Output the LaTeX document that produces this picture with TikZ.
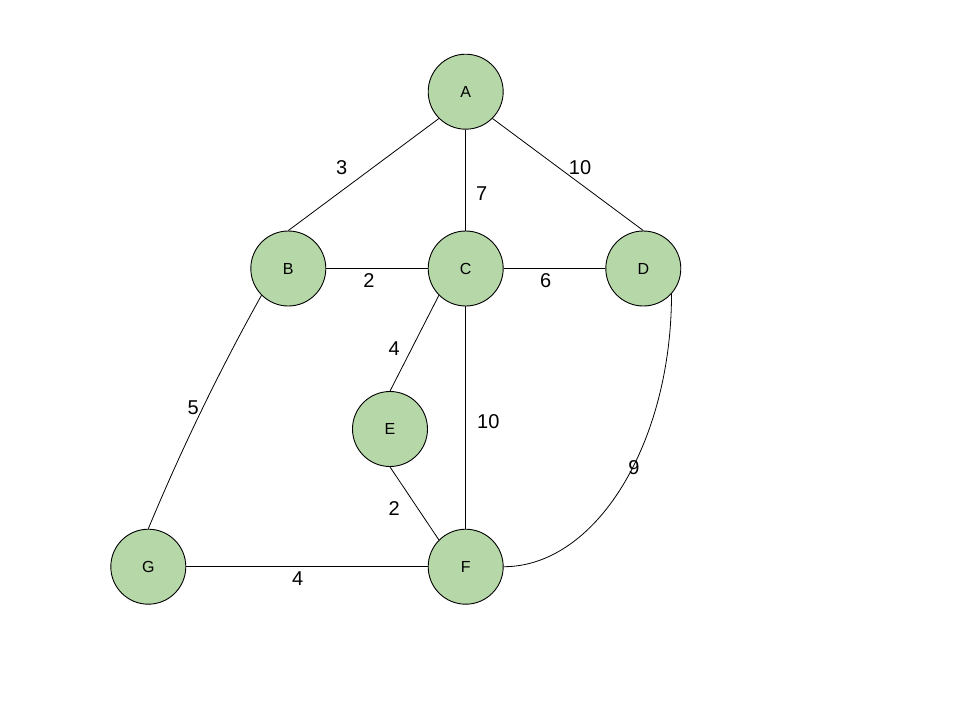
\documentclass[tikz,border=0pt]{standalone}
\usepackage{fontspec}
\setmainfont{Liberation Sans}
\definecolor{nodegreen}{HTML}{B6D7A8}
\begin{document}
\begin{tikzpicture}[x=1pt,y=-1pt,
  vertex/.style={circle,draw=black,fill=nodegreen,line width=0.9pt,minimum size=75pt,inner sep=0pt,font=\fontsize{16}{16}\selectfont},
  edge/.style={line width=0.8pt,black},
  wlabel/.style={inner sep=0pt,font=\fontsize{20}{20}\selectfont}]
\useasboundingbox[fill=white] (0,0) rectangle (960,720);
% vertices
\node[vertex] (A) at (465.7,91.7) {A};
\node[vertex] (B) at (288.3,268.5) {B};
\node[vertex] (C) at (465.7,268.5) {C};
\node[vertex] (D) at (643.3,268.5) {D};
\node[vertex] (E) at (390.0,429.0) {E};
\node[vertex] (F) at (465.7,566.7) {F};
\node[vertex] (G) at (148.3,566.7) {G};
% edges
\draw[edge] (A.225) -- (B.north);
\draw[edge] (A.south) -- (C.north);
\draw[edge] (A.-45) -- (D.north);
\draw[edge] (B.east) -- (C.west);
\draw[edge] (C.east) -- (D.west);
\draw[edge] (C.225) -- (E.north);
\draw[edge] (C.south) -- (F.north);
\draw[edge] (E.south) -- (F.135);
\draw[edge] (G.east) -- (F.west);
\draw[edge] (B.225) .. controls +(-42.3,75.7) and +(33.3,-80.1) .. (G.north);
\draw[edge] (D.-42) .. controls +(0,150) and +(92,0) .. (F.east);
% weights
\node[wlabel] (wAB) at (341.7,167.5) {3};
\node[wlabel] (wAD) at (580.0,168.0) {10};
\node[wlabel] (wAC) at (481.7,193.5) {7};
\node[wlabel] (wBC) at (369.0,280.5) {2};
\node[wlabel] (wCD) at (545.7,280.5) {6};
\node[wlabel] (wCE) at (394.3,348.5) {4};
\node[wlabel] (wBG) at (193.3,407.7) {5};
\node[wlabel] (wCF) at (488.3,421.7) {10};
\node[wlabel] (wDF) at (634.0,468.0) {9};
\node[wlabel] (wEF) at (394.3,508.3) {2};
\node[wlabel] (wGF) at (297.7,578.5) {4};
\end{tikzpicture}
\end{document}
